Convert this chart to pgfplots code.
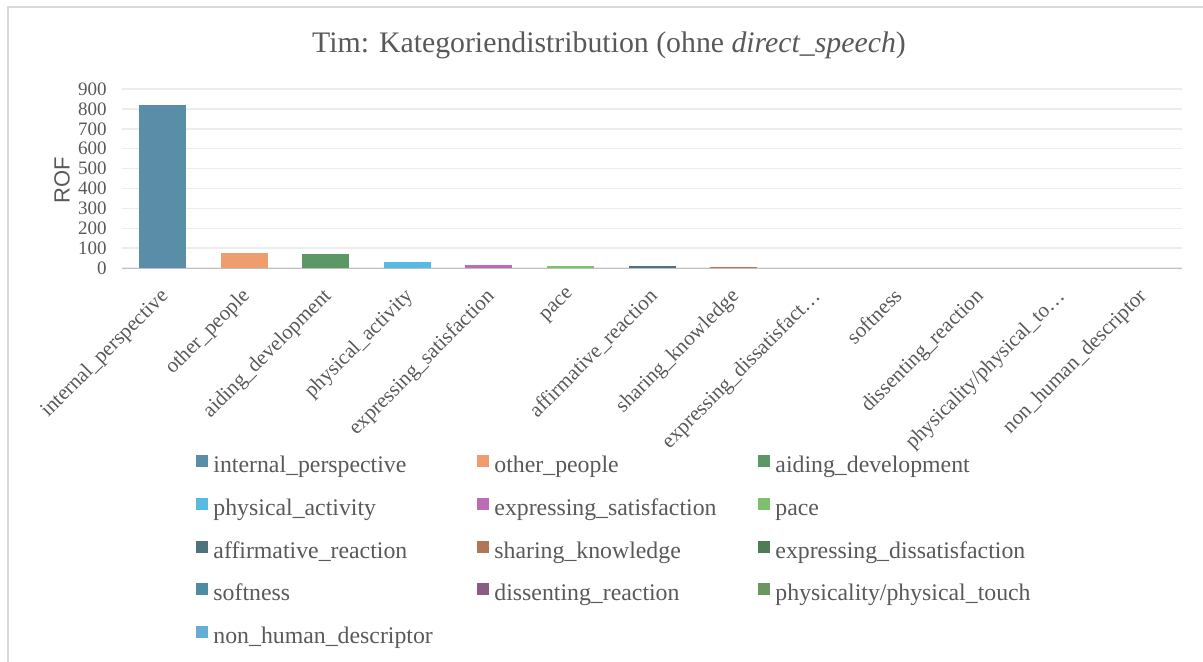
\documentclass[border=0pt]{standalone}
\usepackage{fontspec}
\setmainfont{Liberation Serif}
\newfontfamily\arialfont{Liberation Sans}
\usepackage{pgfplots}
\pgfplotsset{compat=1.18}

\definecolor{txtgray}{HTML}{595959}
\definecolor{gridgray}{HTML}{EDEDED}
\definecolor{axgray}{HTML}{BFBFBF}
\definecolor{framegray}{HTML}{D9D9D9}
\definecolor{c1}{HTML}{5A8EA8}
\definecolor{c2}{HTML}{EF9C6E}
\definecolor{c3}{HTML}{5C9766}
\definecolor{c4}{HTML}{57BAE0}
\definecolor{c5}{HTML}{BC6BB5}
\definecolor{c6}{HTML}{7DC06E}
\definecolor{c7}{HTML}{50717F}
\definecolor{c8}{HTML}{B07656}
\definecolor{c9}{HTML}{4F7B57}
\definecolor{c10}{HTML}{4F8CA2}
\definecolor{c11}{HTML}{8C5A86}
\definecolor{c12}{HTML}{6A9660}
\definecolor{c13}{HTML}{63AFD4}

\pgfplotsset{
  mybar/.style={draw=none, bar shift=0pt,
    legend image code/.code={\fill[##1] (0pt,-0.3pt) rectangle (6pt,5.7pt);}},
}
\newcommand{\lent}[1]{\addlegendentry{\makebox[132pt][l]{#1}}}

\begin{document}
\begin{tikzpicture}[x=1pt,y=1pt]
\useasboundingbox (0,0) rectangle (601.5,-330.5);
\draw[framegray, line width=0.6pt] (4,-340) -- (4,-3.5) -- (610,-3.5);

\node[font=\fontsize{14.9}{16}\selectfont, text=txtgray] at (304.5,-22.5)
  {Tim: Kategoriendistribution (ohne \textit{direct\_speech})};
\node[font=\arialfont\fontsize{11}{12}\selectfont, text=txtgray, rotate=90] at (31,-90) {ROF};

\begin{axis}[
  at={(61pt,-134pt)}, anchor=south west,
  scale only axis, width=530pt, height=89.5pt,
  xmin=-0.5, xmax=12.5, ymin=0, ymax=900,
  ytick={0,100,...,900},
  xtick={0,...,12},
  xticklabels={internal\_perspective, other\_people, aiding\_development,
    physical\_activity, expressing\_satisfaction, pace, affirmative\_reaction,
    sharing\_knowledge, expressing\_dissatisfact…, softness, dissenting\_reaction,
    physicality/physical\_to…, non\_human\_descriptor},
  x tick label style={rotate=45, anchor=north east, inner sep=0pt,
    xshift=-8pt, yshift=-5pt,
    font=\fontsize{10.5}{11}\selectfont, text=txtgray},
  y tick label style={inner sep=0pt, xshift=-7.5pt,
    font=\fontsize{9.5}{10}\selectfont, text=txtgray},
  /pgf/number format/assume math mode=true,
  ymajorgrids, grid style={gridgray, line width=0.7pt},
  axis line style={draw=none}, major tick length=0pt,
  ybar, bar width=23.5pt,
  legend columns=3,
  legend cell align=left,
  legend style={draw=none, fill=none, at={(0.0642,-1.022)}, anchor=north west,
    font=\fontsize{11.9}{13}\selectfont, text=txtgray,
    nodes={inner sep=0pt, text height=8.5pt, text depth=2.5pt},
    row sep=10.15pt,
    /tikz/every odd column/.style={column sep=2.5pt},
    /tikz/every even column/.style={column sep=0pt}},
]
\addplot[mybar, fill=c1] coordinates {(0,822)};
\lent{internal\_perspective}
\addplot[mybar, fill=c2] coordinates {(1,77)};
\lent{other\_people}
\addplot[mybar, fill=c3] coordinates {(2,72)};
\lent{aiding\_development}
\addplot[mybar, fill=c4] coordinates {(3,30)};
\lent{physical\_activity}
\addplot[mybar, fill=c5] coordinates {(4,15)};
\lent{expressing\_satisfaction}
\addplot[mybar, fill=c6] coordinates {(5,10)};
\lent{pace}
\addplot[mybar, fill=c7] coordinates {(6,9)};
\lent{affirmative\_reaction}
\addplot[mybar, fill=c8] coordinates {(7,5)};
\lent{sharing\_knowledge}
\addplot[mybar, fill=c9] coordinates {(8,2)};
\lent{expressing\_dissatisfaction}
\addplot[mybar, fill=c10] coordinates {(9,1)};
\lent{softness}
\addplot[mybar, fill=c11] coordinates {(10,1)};
\lent{dissenting\_reaction}
\addplot[mybar, fill=c12] coordinates {(11,1)};
\lent{physicality/physical\_touch}
\addplot[mybar, fill=c13] coordinates {(12,1)};
\lent{non\_human\_descriptor}
\draw[axgray, line width=1.5pt] ([yshift=-0.75pt]axis cs:-0.5,0) -- ([yshift=-0.75pt]axis cs:12.5,0);
\end{axis}
\end{tikzpicture}
\end{document}
